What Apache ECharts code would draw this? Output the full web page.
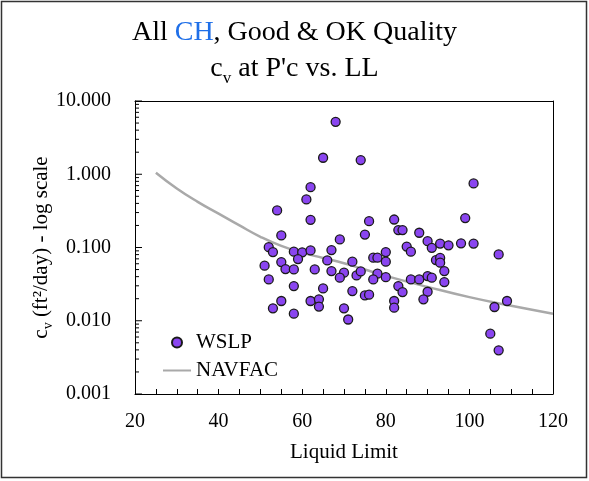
<!DOCTYPE html>
<html>
<head>
<meta charset="utf-8">
<script src="https://cdn.jsdelivr.net/npm/echarts@6/dist/echarts.min.js"></script>
<style>
html,body{margin:0;padding:0;background:#fff;}
#chart{width:589px;height:481px;}
</style>
</head>
<body>
<div id="chart"></div>
<script>
// WSLP data: Liquid Limit and cv (ft2/day)
const wslpLL = [68,65,74,62,61,54,62,76,55,75,69,52,53,58,60,62,67,59,66,72,77,78,51,55,56,58,63,67,70,69,73,74,78,77,52,58,65,72,75,76,55,62,64,64,53,58,70,71,83,84,82,88,101,99,90,91,93,95,98,101,107,85,86,80,80,92,93,93,94,94,80,83,84,86,88,90,91,90,89,82,82,106,109,105,107];
const wslpCv = [5.2,1.68,1.56,0.667,0.453,0.321,0.239,0.229,0.146,0.150,0.129,0.101,0.0865,0.0877,0.0858,0.0912,0.0922,0.0695,0.0667,0.064,0.0726,0.0726,0.0565,0.0632,0.0507,0.0502,0.0502,0.0477,0.0453,0.0387,0.0416,0.0472,0.0439,0.0367,0.0367,0.0297,0.0276,0.0254,0.0222,0.0227,0.0186,0.0186,0.0196,0.0156,0.0148,0.0125,0.0148,0.0104,0.173,0.173,0.241,0.159,0.75,0.252,0.122,0.099,0.113,0.107,0.114,0.113,0.0805,0.103,0.0877,0.0865,0.064,0.0673,0.072,0.062,0.0477,0.0337,0.0394,0.0297,0.0246,0.0367,0.0367,0.0407,0.0387,0.0249,0.0196,0.0186,0.0151,0.0154,0.0186,0.00667,0.00395];
// NAVFAC curve
const navLL = [25,30,35,40,45,50,55,60,65,70,75,80,90,100,110,120];
const navCv = [1.05,0.64,0.42,0.29,0.20,0.14,0.105,0.085,0.072,0.061,0.05,0.041,0.029,0.021,0.016,0.0125];
// Axis ticks
const xTicks = [20,40,60,80,100,120];
const yTicks = [0.001,0.01,0.1,1,10];
const yMinorMultipliers = [2,3,4,5,6,7,8,9];

const yMinor = [];
for (let i = 0; i < yTicks.length - 1; i++) {
  yMinorMultipliers.forEach(m => yMinor.push(+(yTicks[i] * m).toPrecision(3)));
}

const FONT = 'Liberation Serif';
const chart = echarts.init(document.getElementById('chart'), null, {renderer: 'canvas'});
chart.setOption({
  animation: false,
  backgroundColor: '#fff',
  title: {
    left: 'center',
    top: 10,
    text: '{a|All }{b|CH}{a|, Good & OK Quality}\n{a|c}{s|v}{a| at P\'c vs. LL}',
    textStyle: {
      fontFamily: FONT, fontSize: 28, fontWeight: 'normal', color: '#000',
      rich: {
        a: {fontFamily: FONT, fontSize: 28, color: '#000', lineHeight: 36, verticalAlign: 'middle'},
        b: {fontFamily: FONT, fontSize: 28, color: '#1f6fe8', lineHeight: 36, verticalAlign: 'middle'},
        s: {fontFamily: FONT, fontSize: 17, color: '#000', lineHeight: 17, verticalAlign: 'bottom'}
      }
    }
  },
  graphic: [{
    type: 'rect', silent: true,
    shape: {x: 1.5, y: 1.5, width: 585, height: 476},
    style: {fill: 'none', stroke: '#333', lineWidth: 1.5}
  }],
  grid: {left: 135, top: 101, right: 36, bottom: 87},
  legend: {
    left: 157, top: 327, orient: 'vertical', itemWidth: 28, itemHeight: 10, itemGap: 7,
    textStyle: {fontFamily: FONT, fontSize: 21, color: '#000'},
    data: [{name: 'WSLP', icon: 'circle'}, {name: 'NAVFAC', itemStyle: {opacity: 0}}]
  },
  xAxis: [{
    type: 'value', min: 20, max: 120, interval: 20, position: 'bottom',
    name: 'Liquid Limit', nameLocation: 'middle', nameGap: 48,
    nameTextStyle: {fontFamily: FONT, fontSize: 21, color: '#000'},
    axisLine: {show: true, lineStyle: {color: '#000', width: 1}},
    axisTick: {show: true, inside: true, length: 5, lineStyle: {color: '#000', width: 1}},
    minorTick: {show: true, splitNumber: 4, length: 5, lineStyle: {color: '#000', width: 1}},
    axisLabel: {fontFamily: FONT, fontSize: 20, color: '#000', margin: 18},
    splitLine: {show: false}
  }, {
    type: 'value', min: 20, max: 120, interval: 20, position: 'top',
    axisLine: {show: true, lineStyle: {color: '#000', width: 1}},
    axisTick: {show: false}, axisLabel: {show: false}, splitLine: {show: false}
  }],
  yAxis: [{
    type: 'log', logBase: 10, min: 0.001, max: 10, position: 'left',
    name: '{a|c}{s|v}{a| (ft²/day) - log scale}', nameLocation: 'middle', nameGap: 80,
    nameMoveOverlap: false,
    nameTextStyle: {
      fontFamily: FONT, fontSize: 21, color: '#000',
      rich: {
        a: {fontFamily: FONT, fontSize: 21, color: '#000', lineHeight: 28, verticalAlign: 'middle'},
        s: {fontFamily: FONT, fontSize: 14, color: '#000', lineHeight: 14, verticalAlign: 'bottom'}
      }
    },
    axisLine: {show: true, lineStyle: {color: '#000', width: 1}},
    axisTick: {show: false},
    axisLabel: {fontFamily: FONT, fontSize: 20, color: '#000', margin: 24,
      formatter: v => Number(v).toFixed(3)},
    splitLine: {show: false}
  }, {
    type: 'log', logBase: 10, min: 0.001, max: 10, position: 'right',
    axisLine: {show: true, lineStyle: {color: '#000', width: 1}},
    axisTick: {show: false}, axisLabel: {show: false}, splitLine: {show: false}
  }],
  series: [{
    name: 'yMajorTicks', type: 'scatter', xAxisIndex: 0, yAxisIndex: 0,
    symbol: 'rect', symbolSize: [7, 1], symbolOffset: [3.5, 0], clip: false, silent: true, z: 5,
    itemStyle: {color: '#000', opacity: 1},
    data: yTicks.map(v => [xTicks[0], v])
  }, {
    name: 'yMinorTicks', type: 'scatter', xAxisIndex: 0, yAxisIndex: 0,
    symbol: 'rect', symbolSize: [4, 1], symbolOffset: [2, 0], clip: false, silent: true, z: 5,
    itemStyle: {color: '#000', opacity: 1},
    data: yMinor.map(v => [xTicks[0], v])
  }, {
    name: 'NAVFAC', type: 'line', smooth: true, symbol: 'none', xAxisIndex: 0, yAxisIndex: 0,
    lineStyle: {color: '#a9a9a9', width: 2.5}, itemStyle: {color: '#a9a9a9'},
    data: navLL.map((x, i) => [x, navCv[i]]), z: 2
  }, {
    name: 'WSLP', type: 'scatter', symbol: 'circle', symbolSize: 9, xAxisIndex: 0, yAxisIndex: 0,
    itemStyle: {color: '#8a45f0', borderColor: '#1a1a1a', borderWidth: 1.3, opacity: 1},
    data: wslpLL.map((x, i) => [x, wslpCv[i]]), z: 3
  }]
});
</script>
</body>
</html>
